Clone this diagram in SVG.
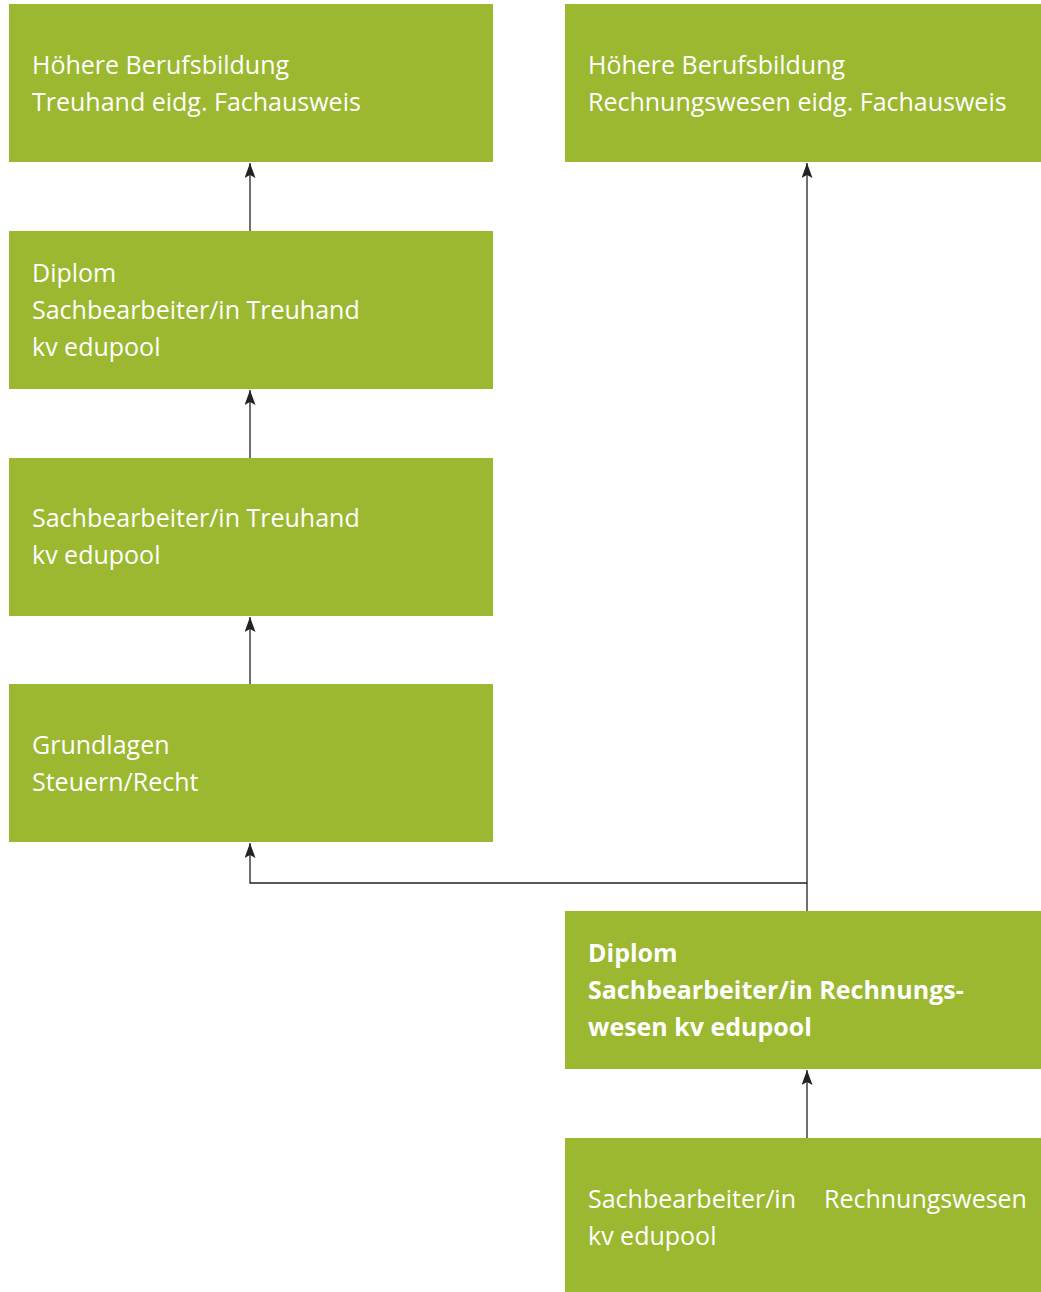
<svg xmlns="http://www.w3.org/2000/svg" width="1041" height="1292" viewBox="0 0 1041 1292">
<style>
.box{fill:#9bb830}
.t{font-family:"Open Sans","Noto Sans",sans-serif;font-size:25px;fill:#ffffff}
.b{font-weight:bold}
.c{stroke:#222;stroke-width:1.3;fill:none}
</style>
<defs>
<marker id="ah" markerWidth="15" markerHeight="11" refX="15" refY="5.5" orient="auto" markerUnits="userSpaceOnUse" viewBox="0 0 15 11">
<path d="M0,0 L15,5.5 L0,11 L3,5.5 Z" fill="#222"/>
</marker>
</defs>
<rect width="1041" height="1292" fill="#fff"/>
<g id="n1"><rect class="box" x="9" y="4" width="484" height="158"/><text class="t" x="32" y="74">Höhere Berufsbildung</text><text class="t" x="32" y="111">Treuhand eidg. Fachausweis</text></g>
<g id="n2"><rect class="box" x="565" y="4" width="476" height="158"/><text class="t" x="588" y="74">Höhere Berufsbildung</text><text class="t" x="588" y="111">Rechnungswesen eidg. Fachausweis</text></g>
<g id="n3"><rect class="box" x="9" y="231" width="484" height="158"/><text class="t" x="32" y="282">Diplom</text><text class="t" x="32" y="319">Sachbearbeiter/in Treuhand</text><text class="t" x="32" y="356">kv edupool</text></g>
<g id="n4"><rect class="box" x="9" y="458" width="484" height="158"/><text class="t" x="32" y="527">Sachbearbeiter/in Treuhand</text><text class="t" x="32" y="564">kv edupool</text></g>
<g id="n5"><rect class="box" x="9" y="684" width="484" height="158"/><text class="t" x="32" y="754">Grundlagen</text><text class="t" x="32" y="791">Steuern/Recht</text></g>
<g id="n6"><rect class="box" x="565" y="911" width="476" height="158"/><text class="t b" x="588" y="962">Diplom</text><text class="t b" x="588" y="999">Sachbearbeiter/in Rechnungs-</text><text class="t b" x="588" y="1036">wesen kv edupool</text></g>
<g id="n7"><rect class="box" x="565" y="1138" width="476" height="154"/><text class="t" x="588" y="1208">Sachbearbeiter/in<tspan x="824">Rechnungswesen</tspan></text><text class="t" x="588" y="1245">kv edupool</text></g>
<g id="connectors">
<line class="c" x1="250" y1="231" x2="250" y2="163" marker-end="url(#ah)"/>
<line class="c" x1="250" y1="458" x2="250" y2="390" marker-end="url(#ah)"/>
<line class="c" x1="250" y1="684" x2="250" y2="617" marker-end="url(#ah)"/>
<line class="c" x1="807" y1="911" x2="807" y2="163" marker-end="url(#ah)"/>
<polyline class="c" points="807,883 250,883 250,843" marker-end="url(#ah)"/>
<line class="c" x1="807" y1="1138" x2="807" y2="1070" marker-end="url(#ah)"/>
</g>
</svg>
